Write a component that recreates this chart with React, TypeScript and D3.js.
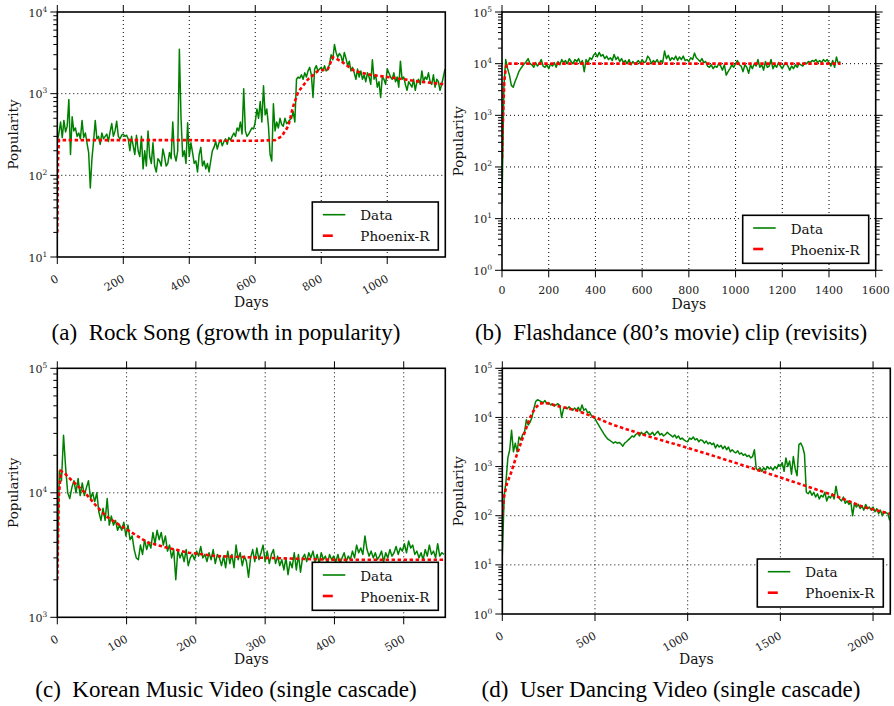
import React from 'react';
import * as d3 from 'd3';

// ---------- DATA ----------
// (a) Rock Song: daily popularity sampled every 5 days from day 0
const rockSongStep = 5;
const rockSongData = [
  260, 330, 450, 290, 470, 340, 400, 850, 180, 520, 350, 380, 300, 330, 280, 470, 290, 330, 250, 190,
  70, 160, 260, 470, 280, 300, 240, 330, 280, 300, 320, 260, 340, 430, 300, 350, 460, 300, 280, 310,
  320, 300, 310, 280, 200, 300, 230, 180, 310, 200, 170, 300, 120, 200, 130, 350, 170, 140, 250, 130,
  110, 160, 150, 130, 210, 170, 130, 140, 190, 160, 450, 180, 150, 200, 3500, 500, 170, 200, 140, 440,
  170, 250, 190, 140, 150, 110, 180, 220, 130, 150, 120, 140, 110, 150, 200, 220, 260, 210, 250, 270,
  230, 260, 280, 240, 290, 270, 300, 330, 300, 380, 350, 450, 320, 1150, 350, 300, 320, 350, 380, 370,
  450, 650, 500, 800, 450, 1250, 550, 650, 400, 180, 150, 750, 350, 450, 380, 500, 420, 400, 500, 430,
  450, 480, 500, 600, 450, 1500, 1600, 1550, 1700, 1500, 1800, 1600, 1900, 2100, 1700, 900, 2000, 2200, 1900, 2000,
  2100, 1900, 2200, 1900, 2000, 2300, 3000, 2600, 4000, 3200, 2800, 3100, 2900, 2400, 3200, 2700, 2200, 2500, 1900, 2100,
  1800, 1500, 2000, 1600, 1900, 1500, 1700, 1400, 1800, 1600, 1300, 2600, 1500, 1700, 1200, 1400, 900, 1600, 1500, 1300,
  2000, 1800, 1600, 1500, 1800, 1400, 1600, 1200, 2500, 1500, 1600, 1300, 1100, 1400, 1300, 1200, 1500, 1100, 1400, 1500,
  1300, 1900, 1400, 1600, 1500, 1800, 1400, 1300, 1700, 1200, 1500, 1400, 1100, 1300, 1600, 2000,
];
const rockSongFitDays = [0, 2, 5, 100, 200, 300, 400, 500, 600, 660, 680, 700, 715, 730, 760, 790, 820, 835, 860, 900, 950, 1000, 1050, 1100, 1175];
const rockSongFitValues = [20, 150, 270, 270, 270, 270, 270, 265, 265, 270, 300, 400, 700, 1050, 1500, 1900, 2000, 2800, 2500, 1900, 1700, 1600, 1500, 1400, 1300];

// (b) Flashdance clip: sampled every 8 days
const flashdanceStep = 8;
const flashdanceData = [
  20, 3500, 12000, 8000, 6000, 3800, 3500, 4500, 5500, 7000, 8000, 9000, 10000, 11000, 12500, 10000, 9500, 8500, 10500, 9000,
  10000, 12000, 9000, 8500, 9500, 8000, 10000, 9000, 10500, 8500, 11000, 9500, 12000, 10500, 11500, 10000, 12500, 11000, 10000, 12000,
  11000, 12500, 10000, 11500, 7000, 12000, 10500, 13000, 12000, 14500, 16000, 13500, 16500, 14000, 15000, 12500, 14000, 12000, 13000, 11500,
  15000, 12000, 13500, 11000, 12500, 10500, 11500, 10000, 12000, 9500, 11000, 10000, 10500, 11500, 10000, 12000, 10500, 11000, 14000, 12500,
  10000, 11500, 10500, 12000, 10000, 11500, 10500, 17500, 12500, 14500, 11500, 13000, 12000, 14000, 11500, 13500, 12000, 14000, 11500, 12000,
  11000, 13000, 12000, 16000, 13000, 12000, 11000, 12500, 10500, 11000, 9000, 8500, 9500, 8000, 9000, 8500, 10000, 9000, 7500, 9500,
  6000, 7000, 8000, 9500, 8500, 10000, 11500, 9500, 9000, 7000, 9500, 8500, 6500, 9500, 8000, 10000, 9000, 12000, 8500, 9500,
  7500, 11000, 8500, 9000, 12000, 8000, 9500, 8500, 10500, 9000, 8000, 9500, 10500, 9000, 7500, 9000, 8000, 9500, 8500, 10000,
  9500, 9000, 10500, 10000, 11000, 10500, 11500, 11000, 12000, 10500, 11500, 10500, 12000, 11000, 12000, 10500, 9000, 11500, 8500, 13500,
  10000, 11000,
];
const flashdanceFitDays = [0, 3, 6, 10, 15, 20, 1450];
const flashdanceFitValues = [150, 600, 1500, 4500, 7500, 10000, 10000];

// (c) Korean Music Video: sampled every 3 days
const koreanStep = 3;
const koreanData = [
  2500, 15000, 12500, 29000, 16000, 10000, 9000, 11000, 12500, 10000, 13000, 9500, 12000, 9500, 11000, 12500, 9000, 10000, 8500, 10000,
  7000, 6000, 7500, 6000, 9000, 5500, 6500, 5500, 6000, 5000, 5500, 5000, 5800, 4500, 5500, 4200, 4500, 3500, 3000, 2900,
  3800, 3200, 4200, 3500, 4000, 3600, 4800, 3900, 5000, 4200, 4800, 3800, 4500, 3400, 3800, 3000, 3500, 2000, 3500, 3000,
  3300, 2800, 3500, 2600, 3000, 3200, 2900, 3400, 3100, 3700, 3000, 3200, 2800, 3300, 2900, 3500, 2700, 3200, 3000, 2600,
  3100, 2500, 3400, 2700, 3200, 2500, 3800, 2900, 3300, 2600, 3100, 2800, 2100, 3000, 3500, 2800, 3600, 2900, 3300, 3800,
  2800, 3400, 2700, 3200, 3500, 2700, 3100, 2600, 2900, 2400, 3000, 2200, 2800, 2500, 3300, 2400, 3200, 2300, 3000, 3200,
  2800, 3300, 3000, 3400, 2800, 3200, 2700, 3300, 2900, 3100, 2700, 3200, 2900, 3100, 2800, 3200, 2700, 3000, 3300, 2800,
  3100, 2900, 3400, 3000, 3800, 3300, 3600, 3200, 4500, 3500, 3100, 3400, 3000, 3300, 2900, 3100, 3400, 2800, 3300, 3000,
  3500, 3100, 3300, 3700, 3200, 3600, 3400, 3900, 3300, 4100, 3600, 3800, 3200, 3400, 3000, 3300, 2900, 3500, 3100, 3800,
  3200, 3400, 3000, 3900, 3100, 3300, 3200,
];
const koreanFitDays = [0, 2, 5, 10, 15, 25, 40, 55, 70, 90, 110, 130, 160, 190, 230, 300, 400, 560];
const koreanFitValues = [2000, 9000, 15000, 14500, 13500, 12000, 10000, 8000, 6500, 5500, 4700, 4000, 3600, 3300, 3100, 3000, 2900, 2900];

// (d) User Dancing Video: sampled every 10 days
const dancingStep = 10;
const dancingData = [
  15, 250, 500, 1500, 2200, 5500, 2000, 3000, 2000, 4000, 3500, 4500, 5000, 9000, 7000, 8000, 10000, 15000, 21000, 23000,
  22000, 21000, 20000, 22000, 19000, 20000, 18000, 19000, 17000, 18000, 19000, 17500, 10000, 15000, 16000, 15000, 16500, 15000, 14000, 15500,
  14000, 16000, 13500, 18000, 14000, 15000, 12500, 13000, 11000, 10000, 9500, 8000, 7000, 6000, 5200, 4500, 4000, 3600, 3400, 3200,
  3000, 3200, 3000, 3100, 2900, 2600, 3000, 3200, 3500, 3800, 4200, 4000, 4500, 4800, 4200, 5000, 4500, 4800, 5200, 4600,
  4500, 5000, 4300, 4800, 5200, 4400, 4700, 4200, 4500, 5000, 4600, 4300, 4000, 4400, 3800, 4200, 3600, 3800, 3500, 3300,
  3200, 3800, 3600, 4000, 3500, 3700, 3200, 3500, 3400, 3000, 3300, 2900, 3100, 2800, 3000, 2400, 2800, 2500, 2700, 2300,
  2600, 2200, 2500, 2000, 2200, 2000, 1900, 2100, 1800, 1900, 1700, 1800, 1600, 1700, 1500, 1600, 2200, 900, 850, 950,
  800, 950, 850, 1000, 900, 950, 850, 1000, 900, 1100, 1000, 1200, 800, 1500, 1000, 1300, 700, 1600, 900, 650,
  2800, 3000, 2500, 1800, 300, 280, 320, 260, 300, 240, 280, 220, 260, 240, 300, 200, 250, 230, 280, 220,
  400, 250, 220, 200, 240, 180, 200, 170, 190, 100, 180, 150, 170, 140, 160, 130, 170, 140, 150, 130,
  150, 120, 140, 110, 130, 100, 120, 115, 110, 80,
];
const dancingFitDays = [0, 10, 25, 50, 75, 100, 125, 150, 175, 200, 230, 300, 400, 500, 600, 800, 1000, 1200, 1400, 1600, 1800, 1950, 2090];
const dancingFitValues = [100, 250, 450, 800, 1600, 3000, 5500, 10000, 15000, 19000, 20000, 17000, 14000, 10000, 7000, 4000, 2400, 1400, 800, 450, 250, 150, 110];

const xTicksA = [0, 200, 400, 600, 800, 1000];
const xTicksB = [0, 200, 400, 600, 800, 1000, 1200, 1400, 1600];
const xTicksC = [0, 100, 200, 300, 400, 500];
const xTicksD = [0, 500, 1000, 1500, 2000];

const legendLabels = ['Data', 'Phoenix-R'];
const axisTitleX = 'Days';
const axisTitleY = 'Popularity';
const captions = [
  '(a)  Rock Song (growth in popularity)',
  '(b)  Flashdance (80’s movie) clip (revisits)',
  '(c)  Korean Music Video (single cascade)',
  '(d)  User Dancing Video (single cascade)',
];

// ---------- STYLE ----------
const GREEN = '#008000';
const RED = '#ff0000';
const SERIF = '"DejaVu Serif", serif';
const CAPTION_FONT = '"Liberation Serif", "Times New Roman", serif';

type Cfg = {
  id: string;
  x0: number; x1: number; y0: number; y1: number;
  xMax: number; yMin: number; yMax: number;
  xTicks: number[]; rotate: boolean; rightTicks: boolean;
  step: number; values: number[]; fitDays: number[]; fitValues: number[];
  caption: string; capX: number; capY: number; popX: number; daysY: number;
};

const panels: Cfg[] = [
  {
    id: 'a', x0: 57.3, x1: 445.3, y0: 12, y1: 257, xMax: 1176, yMin: 10, yMax: 1e4,
    xTicks: xTicksA, rotate: true, rightTicks: false,
    step: rockSongStep, values: rockSongData, fitDays: rockSongFitDays, fitValues: rockSongFitValues,
    caption: captions[0], capX: 226, capY: 340, popX: 17.5, daysY: 306.5,
  },
  {
    id: 'b', x0: 502, x1: 875.7, y0: 12, y1: 270.3, xMax: 1600, yMin: 1, yMax: 1e5,
    xTicks: xTicksB, rotate: false, rightTicks: true,
    step: flashdanceStep, values: flashdanceData, fitDays: flashdanceFitDays, fitValues: flashdanceFitValues,
    caption: captions[1], capX: 671, capY: 340, popX: 462.5, daysY: 308.5,
  },
  {
    id: 'c', x0: 57.3, x1: 445.3, y0: 368.3, y1: 617.3, xMax: 560, yMin: 1e3, yMax: 1e5,
    xTicks: xTicksC, rotate: true, rightTicks: false,
    step: koreanStep, values: koreanData, fitDays: koreanFitDays, fitValues: koreanFitValues,
    caption: captions[2], capX: 226, capY: 697, popX: 17.5, daysY: 663.5,
  },
  {
    id: 'd', x0: 502.3, x1: 890.3, y0: 368.3, y1: 614, xMax: 2093, yMin: 1, yMax: 1e5,
    xTicks: xTicksD, rotate: true, rightTicks: false,
    step: dancingStep, values: dancingData, fitDays: dancingFitDays, fitValues: dancingFitValues,
    caption: captions[3], capX: 671, capY: 697, popX: 462.5, daysY: 663.5,
  },
];

function Panel({ c }: { c: Cfg }) {
  const x = d3.scaleLinear().domain([0, c.xMax]).range([c.x0, c.x1]);
  const y = d3.scaleLog().domain([c.yMin, c.yMax]).range([c.y1, c.y0]);
  const dataPts: [number, number][] = c.values.map((v, i) => [i * c.step, v]);
  const fitPts: [number, number][] = c.fitDays.map((d, i) => [d, c.fitValues[i]]);
  const line = d3.line<[number, number]>().x((d) => x(d[0])).y((d) => y(d[1]));
  const eMin = Math.round(Math.log10(c.yMin));
  const eMax = Math.round(Math.log10(c.yMax));
  const exps = d3.range(eMin, eMax + 1);
  const minors: number[] = [];
  for (let e = eMin; e < eMax; e++) for (let m = 2; m <= 9; m++) minors.push(m * Math.pow(10, e));
  const clipId = 'clip-' + c.id;
  const lw = 126, lh = 48;
  const lx = c.x1 - 7 - lw, ly = c.y1 - 7 - lh;
  const cx = (c.x0 + c.x1) / 2, cy = (c.y0 + c.y1) / 2;
  return (
    <g>
      <defs>
        <clipPath id={clipId}>
          <rect x={c.x0} y={c.y0} width={c.x1 - c.x0} height={c.y1 - c.y0} />
        </clipPath>
      </defs>
      <rect x={c.x0} y={c.y0} width={c.x1 - c.x0} height={c.y1 - c.y0} fill="#fff" />
      {/* grid */}
      <g stroke="#000" strokeWidth={1} strokeDasharray="1,3" fill="none">
        {c.xTicks.filter((t) => t > 0 && t < c.xMax).map((t) => (
          <line key={'gx' + t} x1={x(t)} x2={x(t)} y1={c.y0} y2={c.y1} />
        ))}
        {exps.filter((e) => e > eMin && e < eMax).map((e) => (
          <line key={'gy' + e} x1={c.x0} x2={c.x1} y1={y(Math.pow(10, e))} y2={y(Math.pow(10, e))} />
        ))}
      </g>
      {/* series */}
      <g clipPath={`url(#${clipId})`}>
        <path d={line(dataPts) || ''} fill="none" stroke={GREEN} strokeWidth={1.5} strokeLinejoin="round" />
        <path d={line(fitPts) || ''} fill="none" stroke={RED} strokeWidth={2.6} strokeDasharray="3.5,2.5" />
      </g>
      {/* frame */}
      <rect x={c.x0} y={c.y0} width={c.x1 - c.x0} height={c.y1 - c.y0} fill="none" stroke="#000" strokeWidth={1.6} />
      {/* ticks */}
      <g stroke="#000" strokeWidth={1}>
        {exps.map((e) => (
          <line key={'ty' + e} x1={c.x0 - 7} x2={c.x0} y1={y(Math.pow(10, e))} y2={y(Math.pow(10, e))} />
        ))}
        {minors.map((m, i) => (
          <line key={'tm' + i} x1={c.x0 - 4} x2={c.x0} y1={y(m)} y2={y(m)} />
        ))}
        {c.rightTicks && exps.map((e) => (
          <line key={'try' + e} x1={c.x1} x2={c.x1 + 7} y1={y(Math.pow(10, e))} y2={y(Math.pow(10, e))} />
        ))}
        {c.rightTicks && minors.map((m, i) => (
          <line key={'trm' + i} x1={c.x1} x2={c.x1 + 4} y1={y(m)} y2={y(m)} />
        ))}
        {c.xTicks.map((t) => (
          <g key={'tx' + t}>
            <line x1={x(t)} x2={x(t)} y1={c.y1} y2={c.y1 + 7} />
            <line x1={x(t)} x2={x(t)} y1={c.y0 - 7} y2={c.y0} />
          </g>
        ))}
      </g>
      {/* y tick labels */}
      <g fontFamily={SERIF} fill="#222">
        {exps.map((e) => (
          <text key={'ly' + e} x={c.x0 - 10} y={y(Math.pow(10, e)) + 4.5} textAnchor="end" fontSize={11}>
            10<tspan fontSize={7.5} dy={-5}>{e}</tspan>
          </text>
        ))}
      </g>
      {/* x tick labels */}
      <g fontFamily={SERIF} fill="#222" fontSize={11}>
        {c.xTicks.map((t) =>
          c.rotate ? (
            <text key={'lx' + t} transform={`translate(${x(t) + 2},${c.y1 + 24}) rotate(-30)`} textAnchor="end">
              {t}
            </text>
          ) : (
            <text key={'lx' + t} x={x(t)} y={c.y1 + 23.5} textAnchor="middle">
              {t}
            </text>
          )
        )}
      </g>
      {/* axis titles */}
      <text x={cx} y={c.daysY} textAnchor="middle" fontFamily={SERIF} fontSize={14} fill="#111">
        {axisTitleX}
      </text>
      <text transform={`translate(${c.popX},${cy}) rotate(-90)`} textAnchor="middle" fontFamily={SERIF} fontSize={13.5} fill="#111">
        {axisTitleY}
      </text>
      {/* legend */}
      <g>
        <rect x={lx} y={ly} width={lw} height={lh} fill="#fff" stroke="#000" strokeWidth={1.6} />
        <line x1={lx + 10.5} x2={lx + 33} y1={ly + 12.7} y2={ly + 12.7} stroke={GREEN} strokeWidth={1.6} />
        <line x1={lx + 10.5} x2={lx + 20.5} y1={ly + 33.7} y2={ly + 33.7} stroke={RED} strokeWidth={2.6} />
        <text x={lx + 48} y={ly + 18.2} fontFamily={SERIF} fontSize={13.5} fill="#111">{legendLabels[0]}</text>
        <text x={lx + 48} y={ly + 39.4} fontFamily={SERIF} fontSize={13.5} fill="#111">{legendLabels[1]}</text>
      </g>
      {/* caption */}
      <text x={c.capX} y={c.capY} textAnchor="middle" fontFamily={CAPTION_FONT} fontSize={23} fill="#000" style={{ whiteSpace: 'pre' }}>
        {c.caption}
      </text>
    </g>
  );
}

export default function App() {
  return (
    <svg
      width={894}
      height={706}
      viewBox="0 0 894 706"
      style={{ position: 'absolute', left: 0, top: 0, background: '#fff' }}
    >
      <rect x={0} y={0} width={894} height={706} fill="#fff" />
      {panels.map((p) => (
        <Panel key={p.id} c={p} />
      ))}
    </svg>
  );
}
